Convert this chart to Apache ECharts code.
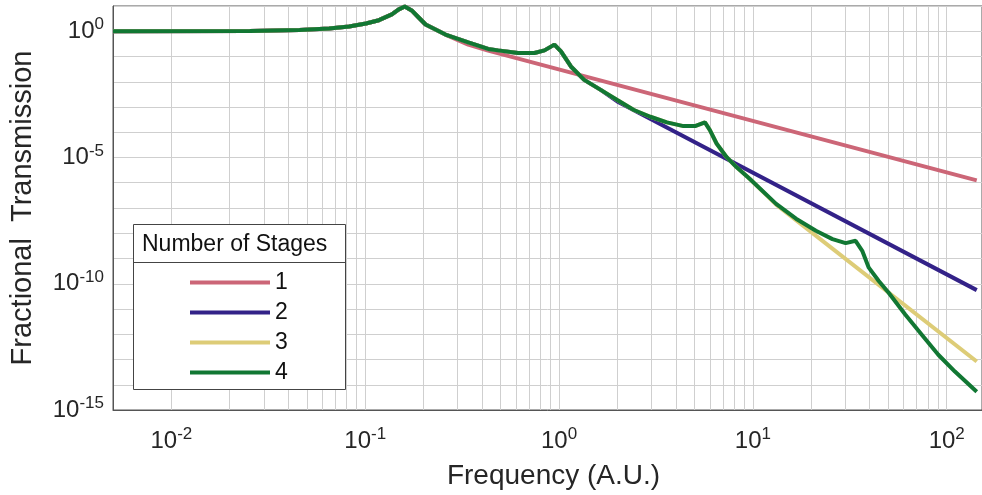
<!DOCTYPE html>
<html>
<head>
<meta charset="utf-8">
<script src="https://cdn.jsdelivr.net/npm/echarts@6/dist/echarts.min.js"></script>
<style>
html,body{margin:0;padding:0;background:#fff;}
#main{width:982px;height:495px;}
</style>
</head>
<body>
<div id="main"></div>
<script>
// 四条曲线共用的低频段（第一个共振峰）  [频率, 透射率]
var lowPart = [[0.005,1],[0.0254,1.02],[0.0458,1.12],[0.0652,1.28],[0.0826,1.54],[0.1009,2.03],
    [0.1177,2.74],[0.1372,4.63],[0.149,7.32],[0.16,9.5],[0.1737,6.68],[0.1887,3.51],[0.2049,1.85],[0.2594,0.739]];

// 1级：之后直线下降
var stage1Tail = [[0.340,0.295],[0.4306,0.170],[142.8,1.235e-6]];

// 第二个共振峰（f≈1）
var peak2Part = [[0.340,0.365],[0.4306,0.199],[0.4849,0.175],[0.6135,0.1378],[0.7469,0.1378],[0.8408,0.175],
    [0.946,0.295],[1.023,0.1597],[1.151,0.0403],[1.348,0.0119],[1.64,4.76e-3]];
var stage2Tail = [[1.996,1.66e-3],[142.8,5.6e-11]];

// 第三个共振峰（f≈5.7）
var peak3Part = [[1.996,1.9e-3],[2.431,7.6e-4],[2.957,4.11e-4],[3.6,2.46e-4],[4.385,1.75e-4],[5.027,1.75e-4],
    [5.657,2.46e-4],[6.0,1.21e-4],[6.494,3.58e-5],[7.305,1.05e-5],[8.222,4.18e-6],[9.618,1.44e-6]];
var stage3Tail = [[13.18,1.36e-7],[142.8,8.3e-14]];

// 第四个共振峰（f≈34）
var peak4Part = [[13.18,1.46e-7],[16.69,3.78e-8],[21.13,1.26e-8],[25.73,5.87e-9],[30.1,4.07e-9],[33.86,5.02e-9],
    [36.64,2.01e-9],[39.61,4.34e-10],[44.59,1.28e-10],[50.15,4.38e-11],[61.07,6.04e-12],[74.35,9.64e-13],
    [90.45,1.54e-13],[110.2,3.33e-14],[142.8,5.31e-15]];

var stageNames = ['1','2','3','4'];
var stageColors = ['#CC6677','#332288','#DDCC77','#117733'];

// x轴网格线（对数刻度，每十倍程 1..9）
var xGridValues = [0.006,0.007,0.008,0.009,0.01,0.02,0.03,0.04,0.05,0.06,0.07,0.08,0.09,0.1,
    0.2,0.3,0.4,0.5,0.6,0.7,0.8,0.9,1,2,3,4,5,6,7,8,9,10,20,30,40,50,60,70,80,90,100];

var stageData = [
    lowPart.concat(stage1Tail),
    lowPart.concat(peak2Part, stage2Tail),
    lowPart.concat(peak2Part, peak3Part, stage3Tail),
    lowPart.concat(peak2Part, peak3Part, peak4Part)
];

var fontName = '"Liberation Sans", Arial, sans-serif';
var textColor = '#262626';
var gridColor = '#cfcfcf';

function powLabel(v, step){
    var e = Math.log10(v);
    if(Math.abs(e - Math.round(e)) > 1e-6) return '';
    e = Math.round(e);
    if(e % step != 0) return '';
    return '{b|10}{s|' + e + '}';
}

var labelRich = {
    b: {fontSize: 24, fontFamily: fontName, color: textColor, lineHeight: 30},
    s: {fontSize: 17, fontFamily: fontName, color: textColor, lineHeight: 17, verticalAlign: 'top'}
};

var series = [];
series.push({
    name: 'grid',
    type: 'line',
    data: [],
    silent: true,
    z: 1,
    markLine: {
        silent: true,
        z: 1,
        symbol: ['none','none'],
        label: {show: false},
        lineStyle: {color: gridColor, width: 1, type: 'solid'},
        data: xGridValues.map(function(v){ return {xAxis: v}; })
    }
});
for(var i = 0; i < stageData.length; i++){
    series.push({
        name: stageNames[i],
        type: 'line',
        data: stageData[i],
        showSymbol: false,
        symbol: 'none',
        smooth: false,
        z: 3 + i,
        lineStyle: {color: stageColors[i], width: 4},
        itemStyle: {color: stageColors[i]}
    });
}

var myChart = echarts.init(document.getElementById('main'));
var option = {
    animation: false,
    backgroundColor: '#fff',
    grid: {left: 112, right: -5, top: 6, bottom: 85, show: true, borderColor: '#555', borderWidth: 1},
    xAxis: {
        type: 'log',
        logBase: 10,
        min: 0.005,
        max: 152,
        name: 'Frequency (A.U.)',
        nameLocation: 'middle',
        nameGap: 52,
        nameTextStyle: {fontSize: 28, fontFamily: fontName, color: textColor, padding: [0,0,0,12]},
        axisLine: {show: true, lineStyle: {color: '#555'}},
        axisTick: {show: false},
        splitLine: {show: false},
        axisLabel: {
            margin: 16,
            showMinLabel: false,
            showMaxLabel: false,
            formatter: function(v){ return powLabel(v, 1); },
            rich: labelRich
        }
    },
    yAxis: {
        type: 'log',
        logBase: 10,
        min: 1e-15,
        max: 10,
        interval: 1,
        name: 'Fractional  Transmission',
        nameLocation: 'middle',
        nameGap: 76,
        nameTextStyle: {fontSize: 29, fontFamily: fontName, color: textColor},
        axisLine: {show: true, lineStyle: {color: '#555'}},
        axisTick: {show: false},
        splitLine: {show: true, lineStyle: {color: gridColor, width: 1}},
        axisLabel: {
            margin: 9,
            formatter: function(v){ return powLabel(v, 5); },
            rich: labelRich
        }
    },
    legend: {
        data: stageNames,
        orient: 'vertical',
        left: 190,
        top: 271,
        padding: 0,
        z: 100,
        icon: 'rect',
        itemWidth: 80,
        itemHeight: 4,
        itemGap: 7,
        textStyle: {fontSize: 23, fontFamily: fontName, color: '#111'}
    },
    graphic: [
        {type: 'rect', z: 90, shape: {x: 133.5, y: 224.5, width: 212, height: 165},
            style: {fill: '#fff', stroke: '#444', lineWidth: 1}},
        {type: 'line', z: 91, shape: {x1: 133.5, y1: 262.5, x2: 345.5, y2: 262.5},
            style: {stroke: '#444', lineWidth: 1}},
        {type: 'text', z: 91, x: 142, y: 245,
            style: {text: 'Number of Stages', font: '23px ' + fontName, fill: '#111', verticalAlign: 'middle'}}
    ],
    series: series
};
myChart.setOption(option);
</script>
</body>
</html>
